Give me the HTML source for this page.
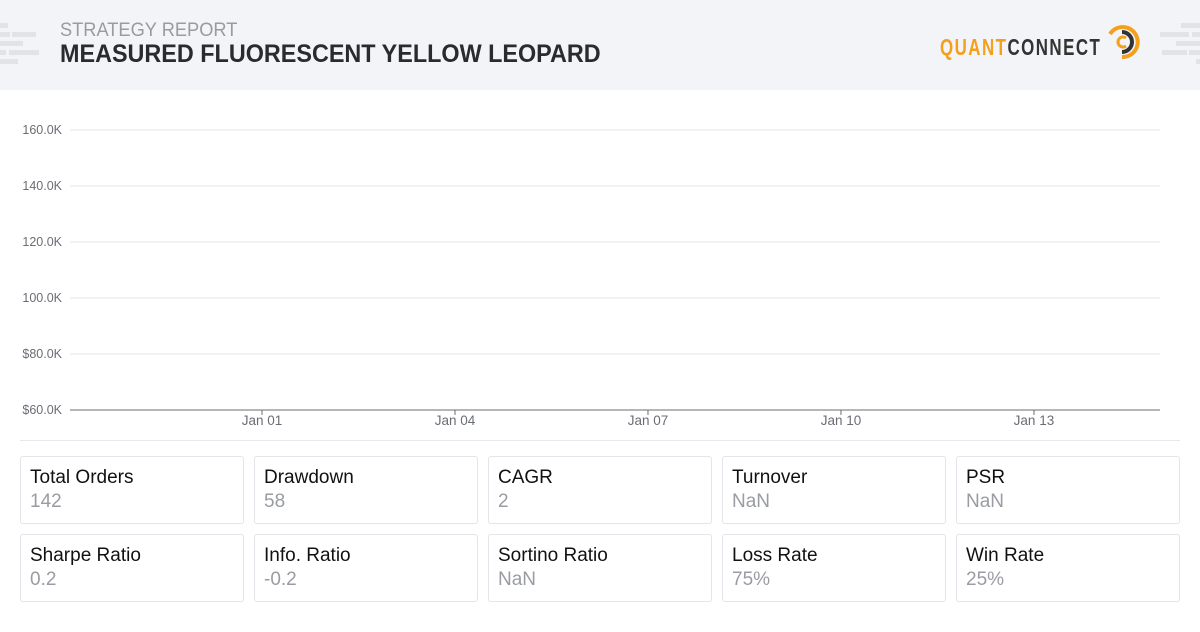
<!DOCTYPE html>
<html><head><meta charset="utf-8"><style>
body{margin:0;width:1200px;height:632px;background:#fff;font-family:"Liberation Sans",sans-serif;position:relative;overflow:hidden}
.hdr{position:absolute;left:0;top:0;width:1200px;height:90px;background:#f3f4f8}
.sub{position:absolute;left:60px;top:20px;font-size:19px;color:#999ba3;transform:scaleX(0.96);transform-origin:left}
.title{position:absolute;left:60px;top:40px;font-size:25px;font-weight:bold;color:#2b2b2e;transform:scaleX(0.935);transform-origin:left;white-space:nowrap}
.deco{position:absolute;background:#e2e3e7;height:5px}
.logo{position:absolute;left:940px;top:34px;font-size:23px;font-weight:bold;letter-spacing:2px;transform:scaleX(0.735);transform-origin:left;white-space:nowrap}
.card{position:absolute;width:222px;height:66px;border:1px solid #e3e5ea;border-radius:3px}
.card .l{position:absolute;left:9px;top:10px;font-size:19px;color:#111}
.card .v{position:absolute;left:9px;top:34px;font-size:19px;color:#9a9ca3}
svg text{font-family:"Liberation Sans",sans-serif}
</style></head><body>
<div class="hdr">
<div class="deco" style="left:0;top:23px;width:8px"></div>
<div class="deco" style="left:0;top:32px;width:10px"></div><div class="deco" style="left:12px;top:32px;width:24px"></div>
<div class="deco" style="left:0;top:41px;width:23px"></div>
<div class="deco" style="left:0;top:50px;width:6px"></div><div class="deco" style="left:9px;top:50px;width:30px"></div>
<div class="deco" style="left:0;top:59px;width:18px"></div>
<div class="deco" style="left:1181px;top:23px;width:19px"></div>
<div class="deco" style="left:1160px;top:32px;width:29px"></div><div class="deco" style="left:1192px;top:32px;width:8px"></div>
<div class="deco" style="left:1176px;top:41px;width:24px"></div>
<div class="deco" style="left:1162px;top:50px;width:25px"></div><div class="deco" style="left:1189px;top:50px;width:11px"></div>
<div class="deco" style="left:1196px;top:59px;width:4px"></div>
<div class="sub">STRATEGY REPORT</div>
<div class="title">MEASURED FLUORESCENT YELLOW LEOPARD</div>
<div class="logo"><span style="color:#f5a01a">QUANT</span><span style="color:#333">CONNECT</span></div>
<svg style="position:absolute;left:1104px;top:24px" width="36" height="36">
<path d="M6 10 A15 15 0 1 1 18 33" fill="none" stroke="#f5a01a" stroke-width="4"/>
<path d="M18 8 A10 10 0 0 1 18 28" fill="none" stroke="#333" stroke-width="4"/>
<path d="M22 14 A5 5 0 1 0 22 22" fill="none" stroke="#f5a01a" stroke-width="3"/>
</svg>
</div>
<svg id="chart" style="position:absolute;left:0;top:90px" width="1200" height="350"></svg>
<div style="position:absolute;left:20px;top:440px;width:1160px;height:1px;background:#e6e8ee"></div>
<div id="cards"></div>
<script>
const yTicks=[60000,80000,100000,120000,140000,160000];
const yLabels=["$60.0K","$80.0K","100.0K","120.0K","140.0K","160.0K"];
const xTickDays=[0,3,6,9,12];
const xLabels=["Jan 01","Jan 04","Jan 07","Jan 10","Jan 13"];
const statLabels=["Total Orders","Drawdown","CAGR","Turnover","PSR","Sharpe Ratio","Info. Ratio","Sortino Ratio","Loss Rate","Win Rate"];
const statValues=["142","58","2","NaN","NaN","0.2","-0.2","NaN","75%","25%"];
const NS="http://www.w3.org/2000/svg";
const svg=document.getElementById('chart');
const y=v=>320-(v-60000)/100000*280;
const x=d=>262+d*64.33;
function mk(t,a){const e=document.createElementNS(NS,t);for(const k in a)e.setAttribute(k,a[k]);svg.appendChild(e);return e;}
yTicks.forEach((v,i)=>{
 const g=mk('line',{x1:70,x2:1160,y1:y(v),y2:y(v),stroke:i==0?'#6b6d75':'#e3e5ec','stroke-width':1});
 
 
 const t=mk('text',{x:62,y:y(v)+4,'text-anchor':'end','font-size':12.5,fill:'#6b6d75'});t.textContent=yLabels[i];
 
 
});
xTickDays.forEach((d,i)=>{
 const l=mk('line',{x1:x(d),x2:x(d),y1:320,y2:325,stroke:'#6b6d75'});
 
 
 const t=mk('text',{x:x(d),y:335,'text-anchor':'middle','font-size':13.5,fill:'#6b6d75'});t.textContent=xLabels[i];
 
 
});
const c=document.getElementById('cards');
statLabels.forEach((s,i)=>{
 const d=document.createElement('div');d.className='card';
 d.style.left=(20+(i%5)*234)+'px';d.style.top=(456+Math.floor(i/5)*78)+'px';
 
 
 d.innerHTML='<div class="l">'+s+'</div><div class="v">'+statValues[i]+'</div>';
 c.appendChild(d);
});
</script>
</body></html>
